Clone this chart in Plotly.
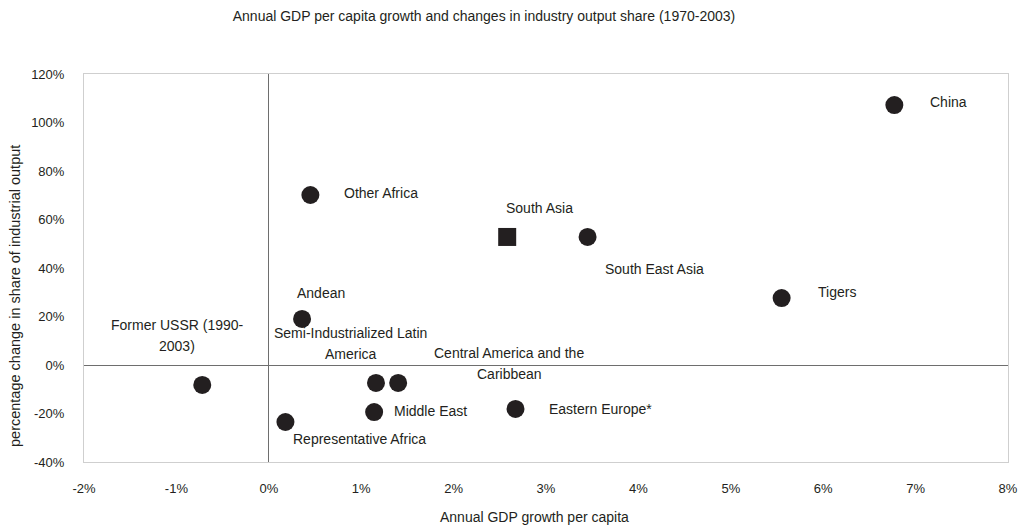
import plotly.graph_objects as go

# ---- data ----
regions = ["China", "Other Africa", "South Asia", "South East Asia", "Tigers", "Andean",
           "Semi-Industrialized Latin America", "Central America and the Caribbean",
           "Middle East", "Eastern Europe*", "Representative Africa", "Former USSR (1990-2003)"]
gdp_growth = [0.0677, 0.0045, 0.0258, 0.0345, 0.0555, 0.0036,
              0.0116, 0.0140, 0.0114, 0.0267, 0.0018, -0.0072]
industry_change = [1.072, 0.701, 0.528, 0.528, 0.276, 0.190,
                   -0.074, -0.074, -0.194, -0.181, -0.235, -0.082]
label_lines = [["China"], ["Other Africa"], ["South Asia"], ["South East Asia"], ["Tigers"], ["Andean"],
               ["Semi-Industrialized Latin", "America"], ["Central America and the", "Caribbean"],
               ["Middle East"], ["Eastern Europe*"], ["Representative Africa"], ["Former USSR (1990-", "2003)"]]
x_ticks = [-0.02, -0.01, 0.0, 0.01, 0.02, 0.03, 0.04, 0.05, 0.06, 0.07, 0.08]
y_ticks = [-0.4, -0.2, 0.0, 0.2, 0.4, 0.6, 0.8, 1.0, 1.2]
x_ticktext = ["-2%", "-1%", "0%", "1%", "2%", "3%", "4%", "5%", "6%", "7%", "8%"]
y_ticktext = ["-40%", "-20%", "0%", "20%", "40%", "60%", "80%", "100%", "120%"]

# ---- label placement (pixel offsets from the point: dx, first-line dy, anchor) ----
placement = {
    "China": (34, -3, "left"),
    "Other Africa": (32, -2, "left"),
    "South Asia": (32, -29, "center"),
    "South East Asia": (15, 32, "left"),
    "Tigers": (34, -6, "left"),
    "Andean": (19, -26, "center"),
    "Semi-Industrialized Latin America": (-25, -50, "center"),
    "Central America and the Caribbean": (111, -30, "center"),
    "Middle East": (18, -1, "left"),
    "Eastern Europe*": (31, 0, "left"),
    "Representative Africa": (6, 17, "left"),
    "Former USSR (1990-2003)": (-25, -60, "center"),
}
LINE_GAP = 21
FONT = "Liberation Sans, Arial, sans-serif"
INK = "#231f20"

# the page body adds an 8px margin, so the figure is 8px smaller in each direction
W, H = 1020, 520
ML, MR, MT, MB = 76, 20, 66, 66

symbols = ["square" if r == "South Asia" else "circle" for r in regions]

fig = go.Figure()
fig.add_trace(go.Scatter(
    x=gdp_growth, y=industry_change, mode="markers", text=regions,
    marker=dict(symbol=symbols, size=18, color=INK, line=dict(width=0)),
    hovertemplate="%{text}<br>%{x:.1%}, %{y:.0%}<extra></extra>",
    showlegend=False,
))

annotations = []
for r, xv, yv, lines in zip(regions, gdp_growth, industry_change, label_lines):
    dx, dy, anchor = placement[r]
    for i, line in enumerate(lines):
        annotations.append(dict(
            x=xv, y=yv, xref="x", yref="y", text=line, showarrow=False,
            xanchor=anchor, yanchor="middle", xshift=dx, yshift=-(dy + i * LINE_GAP),
            font=dict(family=FONT, size=14, color=INK),
        ))

pw, ph = W - ML - MR, H - MT - MB
# axis titles placed as in the reference (slightly off-centre)
annotations.append(dict(
    text="Annual GDP growth per capita", xref="paper", yref="paper",
    x=(526 - ML) / pw, y=-(509 - (H - MB)) / ph, xanchor="center", yanchor="middle",
    showarrow=False, font=dict(family=FONT, size=14, color=INK)))
annotations.append(dict(
    text="percentage change in share of industrial output", xref="paper", yref="paper",
    x=-(ML - 7) / pw, y=1 - (288 - MT) / ph, xanchor="center", yanchor="middle",
    textangle=-90, showarrow=False, font=dict(family=FONT, size=14.5, color=INK)))

fig.update_layout(
    width=W, height=H,
    paper_bgcolor="white", plot_bgcolor="white",
    margin=dict(l=ML, r=MR, t=MT, b=MB),
    font=dict(family=FONT, size=13, color=INK),
    title=dict(text="Annual GDP per capita growth and changes in industry output share (1970-2003)",
               xref="container", x=476 / W, xanchor="center", yref="container", y=1 - 8 / H,
               yanchor="middle", font=dict(family=FONT, size=14, color=INK)),
    annotations=annotations,
    xaxis=dict(range=[-0.02, 0.08], tickvals=x_ticks, ticktext=x_ticktext, showgrid=False,
               zeroline=True, zerolinecolor="#6e6e6e", zerolinewidth=1,
               showline=True, mirror=True, linecolor="#cfcfcf", linewidth=1,
               ticks="", ticklabelstandoff=14, automargin=False),
    yaxis=dict(range=[-0.4, 1.2], tickvals=y_ticks, ticktext=y_ticktext, showgrid=False,
               zeroline=True, zerolinecolor="#6e6e6e", zerolinewidth=1,
               showline=True, mirror=True, linecolor="#cfcfcf", linewidth=1,
               ticks="", ticklabelstandoff=16, automargin=False),
)

fig.write_html("out.html")
